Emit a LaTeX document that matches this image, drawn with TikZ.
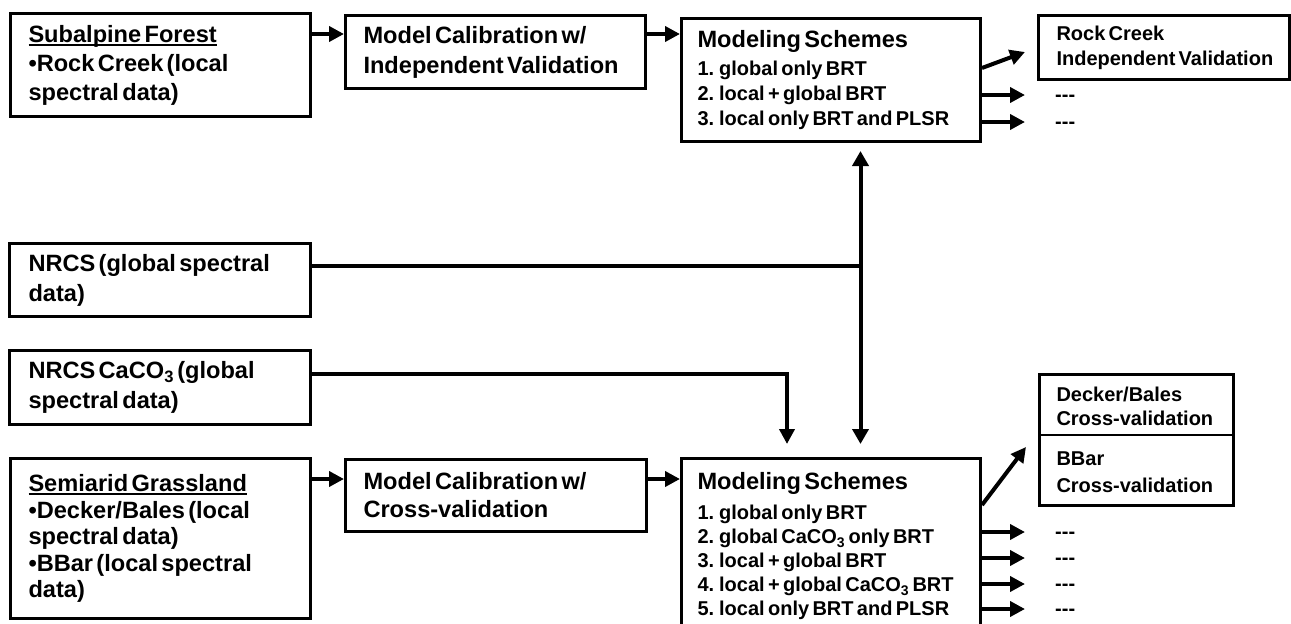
\documentclass[tikz,border=0pt]{standalone}
\usepackage{fontspec}
\setmainfont{Liberation Sans}
\usetikzlibrary{arrows.meta}
\newcommand\myul[1]{\setbox0\hbox{#1}\rlap{\rule[-3.5pt]{\wd0}{2pt}}\box0}
\newcommand\oneln[1]{\mbox{#1}}
\begin{document}
\begin{tikzpicture}[x=1pt,y=-1pt,
  box/.style={draw, line width=3pt, anchor=north west, align=left, inner ysep=0pt, font=\bfseries},
  arr/.style={line width=4pt, -{Triangle[length=15pt,width=15pt]}},
  arrtwo/.style={line width=4pt, {Triangle[length=15pt,width=16pt]}-{Triangle[length=15pt,width=16pt]}},
  ln/.style={line width=4pt},
  dashtxt/.style={anchor=west, inner sep=0pt, font=\bfseries\fontsize{20}{24}\selectfont},
]
\useasboundingbox (0,0) rectangle (1291,624);
\clip (0,0) rectangle (1291,624);

% top row
\node[box, text width=264pt, inner xsep=18pt, minimum width=300pt, minimum height=103pt] (sub) at (9,12)
  {\fontsize{23.6}{29}\selectfont\myul{Subalpine Forest}\\•Rock Creek (local\\spectral data)\par};
\node[box, text width=264pt, inner xsep=18pt, minimum width=300pt, minimum height=73pt] (mc1) at (344,14)
  {\fontsize{23.6}{30}\selectfont Model Calibration w/\\\oneln{Independent Validation}\par};
\node[box, text width=267pt, inner xsep=16pt, minimum width=299pt, minimum height=123pt] (ms1) at (680,17)
  {\fontsize{23.6}{28}\selectfont Modeling Schemes\\[3pt]\fontsize{20}{25}\selectfont 1. global only BRT\\2. local + global BRT\\\oneln{3. local only BRT and PLSR}\par};
\node[box, text width=215pt, inner xsep=18pt, minimum width=251pt, minimum height=64pt] (rc) at (1037,14)
  {\fontsize{20}{25}\selectfont Rock Creek\\\oneln{Independent Validation}\par};

% global data
\node[box, text width=263pt, inner xsep=19pt, minimum width=301pt, minimum height=73pt] (nrcs) at (8,242)
  {\fontsize{23.6}{30}\selectfont NRCS (global spectral\\data)\par};
\node[box, text width=263pt, inner xsep=19pt, minimum width=301pt, minimum height=74pt] (caco) at (8,349)
  {\fontsize{23.6}{30}\selectfont NRCS CaCO\textsubscript{3} (global\\spectral data)\par};

% bottom row
\node[box, text width=264pt, inner xsep=18pt, minimum width=300pt, minimum height=160pt] (semi) at (9,457)
  {\fontsize{23.6}{26.5}\selectfont\myul{Semiarid Grassland}\\•Decker/Bales (local\\spectral data)\\•BBar (local spectral\\data)\par};
\node[box, text width=265pt, inner xsep=18pt, minimum width=301pt, minimum height=72pt] (mc2) at (344,458)
  {\fontsize{23.6}{28}\selectfont Model Calibration w/\\Cross-validation\par};
\node[box, text width=267pt, inner xsep=16pt, minimum width=299pt, minimum height=176pt] (ms2) at (680,457)
  {\fontsize{23.6}{28}\selectfont Modeling Schemes\\[6pt]\fontsize{20}{24}\selectfont 1. global only BRT\\2. global CaCO\textsubscript{3} only BRT\\3. local + global BRT\\\oneln{4. local + global CaCO\textsubscript{3} BRT}\\\oneln{5. local only BRT and PLSR}\par};
\node[box, text width=160pt, inner xsep=17pt, minimum width=194pt, minimum height=131pt] (db) at (1038,373)
  {\fontsize{20}{24}\selectfont Decker/Bales\\\oneln{Cross-validation}\\[16pt]BBar\\[3pt]\oneln{Cross-validation}\par};
\draw[line width=1.5pt] ([yshift=-62pt]db.north west) -- ([yshift=-62pt]db.north east);

% dash labels
\node[dashtxt] (d1) at (1055,98) {-{}-{}-};
\node[dashtxt] (d2) at (1055,125) {-{}-{}-};
\node[dashtxt] (d3) at (1055,535) {-{}-{}-};
\node[dashtxt] (d4) at (1055,561) {-{}-{}-};
\node[dashtxt] (d5) at (1055,587) {-{}-{}-};
\node[dashtxt] (d6) at (1055,612) {-{}-{}-};

% free ends
\coordinate (t1) at (1025,52);
\coordinate (t2) at (1025,95);
\coordinate (t3) at (1025,122);
\coordinate (j1) at (859,266);
\coordinate (c2) at (787,444);
\coordinate (b1) at (1026,447);
\coordinate (b2) at (1025,532);
\coordinate (b3) at (1025,558);
\coordinate (b4) at (1025,584);
\coordinate (b5) at (1025,609);

% connectors top
\draw[arr] ([yshift=-22pt]sub.north east) -- ([yshift=-20pt]mc1.north west);
\draw[arr] ([yshift=-20pt]mc1.north east) -- ([yshift=-17pt]ms1.north west);
\draw[arr] ([yshift=-51pt]ms1.north east) -- (t1);
\draw[arr] (ms1.east |- t2) -- (t2);
\draw[arr] (ms1.east |- t3) -- (t3);

% global connectors
\draw[ln] ([yshift=-24pt]nrcs.north east) -- (j1);
\draw[arr] ([yshift=-25pt]caco.north east) -| (c2);
\draw[arrtwo] ([xshift=29.5pt,yshift=-8pt]ms1.south) -- ([xshift=29.5pt,yshift=13pt]ms2.north);

% connectors bottom
\draw[arr] ([yshift=-22pt]semi.north east) -- ([yshift=-21pt]mc2.north west);
\draw[arr] ([yshift=-21pt]mc2.north east) -- ([yshift=-22pt]ms2.north west);
\draw[arr] ([yshift=-48pt]ms2.north east) -- (b1);
\draw[arr] (ms2.east |- b2) -- (b2);
\draw[arr] (ms2.east |- b3) -- (b3);
\draw[arr] (ms2.east |- b4) -- (b4);
\draw[arr] (ms2.east |- b5) -- (b5);
\end{tikzpicture}
\end{document}
